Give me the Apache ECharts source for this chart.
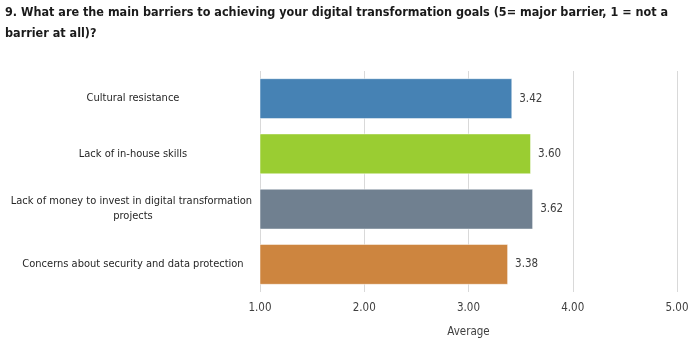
<!DOCTYPE html>
<html>
<head>
<meta charset="utf-8">
<script src="https://cdn.jsdelivr.net/npm/echarts@6/dist/echarts.min.js"></script>
<style>
  html, body { margin: 0; padding: 0; background: #fff; }
  #chart { width: 700px; height: 351px; }
</style>
</head>
<body>
<div id="chart"></div>
<script>
const titleText = '9. What are the main barriers to achieving your digital transformation goals (5= major barrier, 1 = not a\nbarrier at all)?';
const categories = [
  'Cultural resistance',
  'Lack of in-house skills',
  'Lack of money to invest in digital transformation projects',
  'Concerns about security and data protection'
];
const averages = [3.42, 3.60, 3.62, 3.38];
const barColors = ['#4682b4', '#9acd32', '#708090', '#cd853f'];
const xTicks = { min: 1, max: 5, interval: 1 };

const font = '"DejaVu Sans Condensed", sans-serif';

const chart = echarts.init(document.getElementById('chart'));
chart.setOption({
  animation: false,
  title: {
    text: titleText,
    left: 0,
    top: 0,
    padding: [2, 5],
    textStyle: {
      fontFamily: font,
      fontSize: 12.5,
      fontWeight: 'bold',
      color: '#1a1a1a',
      lineHeight: 21
    }
  },
  grid: { left: 260, right: 23, top: 71, bottom: 59 },
  xAxis: {
    type: 'value',
    min: xTicks.min,
    max: xTicks.max,
    interval: xTicks.interval,
    name: 'Average',
    nameLocation: 'middle',
    nameGap: 34,
    nameTextStyle: { fontFamily: font, fontSize: 11.5, color: '#404040' },
    axisLine: { show: false },
    axisTick: { show: false },
    axisLabel: {
      margin: 10,
      fontFamily: font,
      fontSize: 11.5,
      color: '#404040',
      formatter: v => v.toFixed(2)
    },
    splitLine: { lineStyle: { color: '#d9d9d9', width: 1 } }
  },
  yAxis: {
    type: 'category',
    inverse: true,
    data: categories,
    axisLine: { show: false },
    axisTick: { show: false },
    axisLabel: {
      margin: 127,
      align: 'center',
      width: 256,
      overflow: 'break',
      lineHeight: 15,
      fontFamily: font,
      fontSize: 11,
      color: '#262626'
    }
  },
  series: [{
    type: 'bar',
    data: averages.map((v, i) => ({ value: v, itemStyle: { color: barColors[i] } })),
    barCategoryGap: '26%',
    itemStyle: { borderColor: 'rgba(255,255,255,0.5)', borderWidth: 1 },
    label: {
      show: true,
      position: 'right',
      distance: 7,
      fontFamily: font,
      fontSize: 11.5,
      color: '#404040',
      formatter: p => p.value.toFixed(2)
    }
  }]
});
</script>
</body>
</html>
